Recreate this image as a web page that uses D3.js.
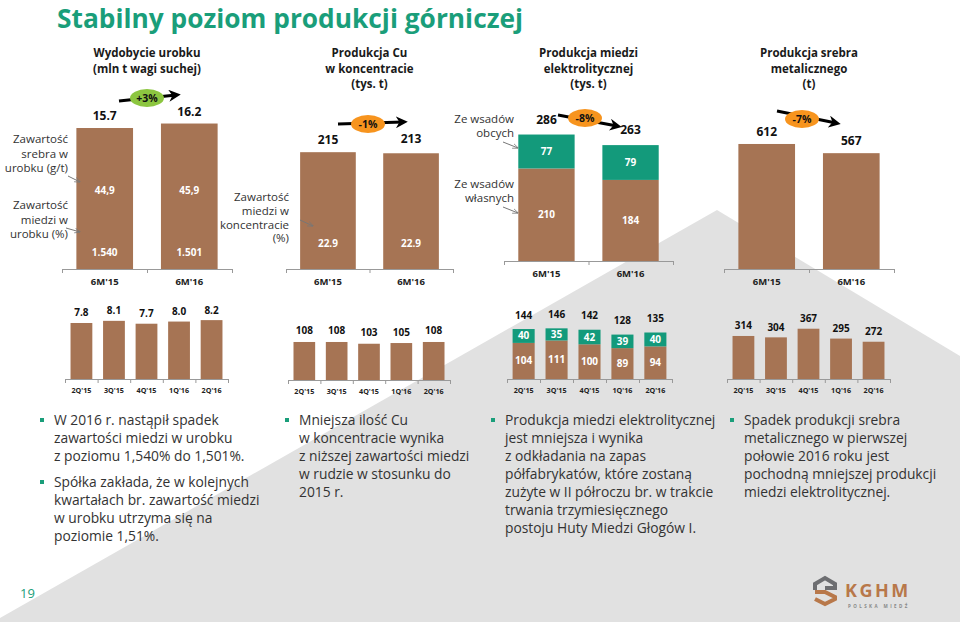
<!DOCTYPE html>
<html>
<head>
<meta charset="UTF-8">
<title>Stabilny poziom produkcji górniczej</title>
<script src="https://d3js.org/d3.v7.min.js"></script>
<style>
    body { margin: 0; background: #fff; overflow: hidden; }
    svg { display: block; font-family: "Open Sans", sans-serif; }
    .ptitle { font-size: 11.5px; font-weight: 700; fill: #1a1a1a; text-anchor: middle; }
    .val { font-weight: 700; fill: #111; text-anchor: middle; }
    .inner { font-weight: 700; fill: #fff; text-anchor: middle; }
    .cat { font-weight: 700; fill: #222; text-anchor: middle; }
    .note { font-size: 11.5px; fill: #333; text-anchor: end; }
    .bullet { font-size: 13.8px; fill: #333; }
    .axis path, .axis line { stroke: #999; }
</style>
</head>
<body>
<svg width="960" height="622"></svg>
<script>
// dane - półrocza
const halfCats = ["6M'15", "6M'16"];
const urobek = [15.7, 16.2];
const urobekSrebro = ["44,9", "45,9"];
const urobekMiedz = ["1.540", "1.501"];
const cuKonc = [215, 213];
const cuKoncProc = ["22.9", "22.9"];
const elWlasne = [210, 184];
const elObce = [77, 79];
const elTotal = [286, 263];
const srebro = [612, 567];
const zmiany = ["+3%", "-1%", "-8%", "-7%"];

// dane - kwartały
const quarters = ["2Q'15", "3Q'15", "4Q'15", "1Q'16", "2Q'16"];
const urobekQ = [7.8, 8.1, 7.7, 8.0, 8.2];
const cuQ = [108, 108, 103, 105, 108];
const elWlasneQ = [104, 111, 100, 89, 94];
const elObceQ = [40, 35, 42, 39, 40];
const elTotalQ = [144, 146, 142, 128, 135];
const srebroQ = [314, 304, 367, 295, 272];

const BROWN = "#a67454", GREEN = "#139a7b", TEAL = "#1a9e7a";

const svg = d3.select("svg");

// szare tło
svg.append("path")
    .attr("d", d3.line()([[0, 618], [717, 210], [960, 356], [960, 622], [0, 622]]))
    .attr("fill", "#e1e1e1");

// tytuł
svg.append("text").attr("x", 57).attr("y", 28)
    .attr("font-size", 26.3).attr("font-weight", 700).attr("fill", TEAL)
    .text("Stabilny poziom produkcji górniczej");

const defs = svg.append("defs");
defs.append("marker").attr("id", "head").attr("viewBox", "0 0 10 10")
    .attr("refX", 6).attr("refY", 5).attr("markerWidth", 4).attr("markerHeight", 4)
    .attr("orient", "auto")
    .append("path").attr("d", "M0,0 L10,5 L0,10 L3,5 Z").attr("fill", "#000");
defs.append("marker").attr("id", "thin").attr("viewBox", "0 0 10 10")
    .attr("refX", 9).attr("refY", 5).attr("markerWidth", 6).attr("markerHeight", 6)
    .attr("orient", "auto")
    .append("path").attr("d", "M0,1 L10,5 L0,9").attr("fill", "none").attr("stroke", "#777").attr("stroke-width", 1.2);

function multiline(g, lines, x, y0, step, cls) {
    const t = g.append("text").attr("class", cls);
    lines.forEach((l, i) => t.append("tspan").attr("x", x).attr("y", y0 + i * step).text(l));
    return t;
}

function axisLine(x0, x1, y, n) {
    const s = d3.scaleLinear().domain([0, n]).range([x0, x1]);
    svg.append("g").attr("class", "axis").attr("transform", `translate(0,${y})`)
        .call(d3.axisBottom(s).ticks(n).tickSize(4).tickSizeOuter(4).tickFormat(""));
}

// panel z dwoma słupkami
function panel(cfg) {
    const x = d3.scaleBand().domain(halfCats).range([cfg.x0, cfg.x1])
        .paddingInner(0.33).paddingOuter(0.17);
    const y = d3.scaleLinear().domain([0, cfg.max]).range([cfg.base, cfg.base - cfg.h]);
    const g = svg.append("g");
    cfg.series.forEach(s => {
        g.selectAll(null).data(halfCats).join("rect")
            .attr("x", d => x(d)).attr("width", x.bandwidth())
            .attr("y", (d, i) => y(s.start(i) + s.vals[i]))
            .attr("height", (d, i) => y(s.start(i)) - y(s.start(i) + s.vals[i]))
            .attr("fill", s.color);
        if (s.labels) {
            g.selectAll(null).data(halfCats).join("text").attr("class", "inner")
                .attr("font-size", 10)
                .attr("x", d => x(d) + x.bandwidth() / 2)
                .attr("y", (d, i) => y(s.start(i) + s.vals[i] / 2)).attr("dy", "0.35em")
                .text((d, i) => s.labels[i]);
        }
    });
    g.selectAll(null).data(halfCats).join("text").attr("class", "val")
        .attr("font-size", 12)
        .attr("x", d => x(d) + x.bandwidth() / 2)
        .attr("y", (d, i) => y(cfg.totals[i]) - 12 - (cfg.totalDy ? cfg.totalDy[i] : 0)).attr("dy", "0.35em")
        .text((d, i) => cfg.totals[i]);
    axisLine(cfg.x0, cfg.x1, cfg.base, 2);
    g.selectAll(null).data(halfCats).join("text").attr("class", "cat")
        .attr("font-size", 9.5)
        .attr("x", d => x(d) + x.bandwidth() / 2).attr("y", cfg.base + 13).attr("dy", "0.35em")
        .text(d => d);
    multiline(svg, cfg.title, (cfg.x0 + cfg.x1) / 2, 57, 15.5, "ptitle");
    return { x, y };
}

function change(p, label, color) {
    svg.append("path").attr("d", d3.line()(p.pts))
        .attr("fill", "none").attr("stroke", "#000").attr("stroke-width", 3)
        .attr("marker-end", "url(#head)");
    svg.append("ellipse").attr("cx", p.c[0]).attr("cy", p.c[1]).attr("rx", 17).attr("ry", 9)
        .attr("fill", color);
    svg.append("text").attr("x", p.c[0]).attr("y", p.c[1]).attr("dy", "0.35em")
        .attr("text-anchor", "middle").attr("font-size", 10.5).attr("font-weight", 700)
        .attr("fill", "#111").text(label);
}

function pointer(a, b) {
    svg.append("line").attr("x1", a[0]).attr("y1", a[1]).attr("x2", b[0]).attr("y2", b[1])
        .attr("stroke", "#777").attr("stroke-width", 1).attr("marker-end", "url(#thin)");
}

// 1. Wydobycie urobku
const p1 = panel({
    x0: 62, x1: 232, base: 269, max: 20, h: 179.6,
    series: [{ vals: urobek, color: BROWN, start: () => 0 }],
    totals: urobek,
    title: ["Wydobycie urobku", "(mln t wagi suchej)"]
});
const g1 = svg.append("g");
g1.selectAll(null).data(halfCats).join("text").attr("class", "inner").attr("font-size", 10)
    .attr("x", d => p1.x(d) + p1.x.bandwidth() / 2).attr("y", 190).attr("dy", "0.35em")
    .text((d, i) => urobekSrebro[i]);
g1.selectAll(null).data(halfCats).join("text").attr("class", "inner").attr("font-size", 10)
    .attr("x", d => p1.x(d) + p1.x.bandwidth() / 2).attr("y", 252).attr("dy", "0.35em")
    .text((d, i) => urobekMiedz[i]);
multiline(svg, ["Zawartość", "srebra w", "urobku (g/t)"], 68, 143, 14.5, "note");
multiline(svg, ["Zawartość", "miedzi w", "urobku (%)"], 68, 209, 14.5, "note");
pointer([68, 176], [80, 182]);
pointer([66, 228], [80, 232]);
change({ pts: [[119, 101], [176, 95]], c: [147, 98] }, zmiany[0], "#8cc640");

// 2. Produkcja Cu w koncentracie
const p2 = panel({
    x0: 286, x1: 453, base: 269, max: 300, h: 163,
    series: [{ vals: cuKonc, color: BROWN, start: () => 0 }],
    totals: cuKonc, totalDy: [0, 2],
    title: ["Produkcja Cu", "w koncentracie", "(tys. t)"]
});
svg.append("g").selectAll(null).data(halfCats).join("text").attr("class", "inner").attr("font-size", 10)
    .attr("x", d => p2.x(d) + p2.x.bandwidth() / 2).attr("y", 243).attr("dy", "0.35em")
    .text((d, i) => cuKoncProc[i]);
multiline(svg, ["Zawartość", "miedzi w", "koncentracie", "(%)"], 289, 201, 13.8, "note");
pointer([300, 220], [313, 226]);
change({ pts: [[338, 124], [403, 122]], c: [368, 124] }, zmiany[1], "#f7941e");

// 3. Produkcja miedzi elektrolitycznej
panel({
    x0: 504, x1: 673, base: 261, max: 300, h: 132.2,
    series: [
        { vals: elWlasne, color: BROWN, start: () => 0, labels: elWlasne },
        { vals: elObce, color: GREEN, start: i => elWlasne[i], labels: elObce }
    ],
    totals: elTotal, totalDy: [3, 3],
    title: ["Produkcja miedzi", "elektrolitycznej", "(tys. t)"]
});
multiline(svg, ["Ze wsadów", "obcych"], 514, 123, 14, "note");
multiline(svg, ["Ze wsadów", "własnych"], 514, 188, 14, "note");
pointer([503, 142], [518, 148]);
pointer([503, 207], [518, 213]);
change({ pts: [[558, 115], [617, 126]], c: [585, 118] }, zmiany[2], "#f7941e");

// 4. Produkcja srebra metalicznego
panel({
    x0: 724, x1: 894, base: 269, max: 700, h: 143,
    series: [{ vals: srebro, color: BROWN, start: () => 0 }],
    totals: srebro,
    title: ["Produkcja srebra", "metalicznego", "(t)"]
});
change({ pts: [[777, 111], [836, 123]], c: [802, 119] }, zmiany[3], "#f7941e");

// małe wykresy kwartalne
function small(cfg) {
    const x = d3.scaleBand().domain(quarters).range([cfg.x0, cfg.x1])
        .paddingInner(0.33).paddingOuter(0.17);
    const y = d3.scaleLinear().domain([0, cfg.max]).range([cfg.base, cfg.base - cfg.h]);
    const g = svg.append("g");
    cfg.series.forEach(s => {
        g.selectAll(null).data(quarters).join("rect")
            .attr("x", d => x(d)).attr("width", x.bandwidth())
            .attr("y", (d, i) => y(s.start(i) + s.vals[i]))
            .attr("height", (d, i) => y(s.start(i)) - y(s.start(i) + s.vals[i]))
            .attr("fill", s.color);
        if (s.labels) {
            g.selectAll(null).data(quarters).join("text").attr("class", "inner")
                .attr("font-size", 10)
                .attr("x", d => x(d) + x.bandwidth() / 2)
                .attr("y", (d, i) => y(s.start(i) + s.vals[i] / 2)).attr("dy", "0.35em")
                .text((d, i) => s.labels[i]);
        }
    });
    g.selectAll(null).data(quarters).join("text").attr("class", "val")
        .attr("font-size", 10)
        .attr("x", d => x(d) + x.bandwidth() / 2)
        .attr("y", (d, i) => y(cfg.totals[i]) - cfg.gap).attr("dy", "0.35em")
        .text((d, i) => cfg.fmt ? cfg.fmt(cfg.totals[i]) : cfg.totals[i]);
    axisLine(cfg.x0, cfg.x1, cfg.base, 5);
    g.selectAll(null).data(quarters).join("text").attr("class", "cat")
        .attr("font-size", 7.2)
        .attr("x", d => x(d) + x.bandwidth() / 2).attr("y", cfg.base + 11).attr("dy", "0.35em")
        .text(d => d);
}

small({ x0: 65, x1: 228, base: 379, max: 10, h: 71.8, gap: 10,
    series: [{ vals: urobekQ, color: BROWN, start: () => 0 }],
    totals: urobekQ, fmt: d3.format(".1f") });
small({ x0: 288, x1: 450, base: 380, max: 200, h: 70.4, gap: 11,
    series: [{ vals: cuQ, color: BROWN, start: () => 0 }],
    totals: cuQ });
small({ x0: 507, x1: 672, base: 379, max: 200, h: 69.4, gap: 14,
    series: [
        { vals: elWlasneQ, color: BROWN, start: () => 0, labels: elWlasneQ },
        { vals: elObceQ, color: GREEN, start: i => elWlasneQ[i], labels: elObceQ }
    ],
    totals: elTotalQ });
small({ x0: 727, x1: 890, base: 379, max: 500, h: 68.5, gap: 10,
    series: [{ vals: srebroQ, color: BROWN, start: () => 0 }],
    totals: srebroQ });

// punkty tekstowe
const bulletCols = [
    { x: 42, paras: [
        ["W 2016 r. nastąpił spadek", "zawartości miedzi w urobku", "z poziomu 1,540% do 1,501%."],
        ["Spółka zakłada, że w kolejnych", "kwartałach br. zawartość miedzi", "w urobku utrzyma się na", "poziomie 1,51%."]
    ] },
    { x: 287, paras: [
        ["Mniejsza ilość Cu", "w koncentracie wynika", "z niższej zawartości miedzi", "w rudzie w stosunku do", "2015 r."]
    ] },
    { x: 493, paras: [
        ["Produkcja miedzi elektrolitycznej", "jest mniejsza i wynika", "z odkładania na zapas",
         "półfabrykatów, które zostaną", "zużyte w II półroczu br. w trakcie",
         "trwania trzymiesięcznego", "postoju Huty Miedzi Głogów I."]
    ] },
    { x: 732, paras: [
        ["Spadek produkcji srebra", "metalicznego w pierwszej", "połowie 2016 roku jest",
         "pochodną mniejszej produkcji", "miedzi elektrolitycznej."]
    ] }
];
bulletCols.forEach(col => {
    let yy = 420;
    col.paras.forEach(p => {
        svg.append("rect").attr("x", col.x - 2).attr("y", yy - 2).attr("width", 4).attr("height", 4)
            .attr("fill", TEAL);
        const t = svg.append("text").attr("class", "bullet");
        p.forEach((l, i) => t.append("tspan").attr("x", col.x + 12).attr("y", yy + i * 18)
            .attr("dy", "0.35em").text(l));
        yy += p.length * 18 + 8;
    });
});

// numer strony
svg.append("text").attr("x", 20).attr("y", 598).attr("font-size", 13).attr("fill", TEAL).text("19");

// logo KGHM
const logo = svg.append("g");
logo.append("path").attr("d", "M815,590 L815,584 L825,578 L835,584 L835,588 L825,588")
    .attr("fill", "none").attr("stroke", "#6d6e71").attr("stroke-width", 4);
logo.append("path").attr("d", "M815,592 L825,592 L835,597 L835,599 L825,604 L815,599")
    .attr("fill", "none").attr("stroke", "#b8784a").attr("stroke-width", 4);
logo.append("text").attr("x", 845).attr("y", 597).attr("font-size", 18).attr("font-weight", 700)
    .attr("letter-spacing", 2.5).attr("fill", "#b8784a").text("KGHM");
logo.append("text").attr("x", 848).attr("y", 608).attr("font-size", 4.5).attr("font-weight", 700)
    .attr("letter-spacing", 2.4).attr("fill", "#888").text("POLSKA MIEDŹ");
</script>
</body>
</html>
